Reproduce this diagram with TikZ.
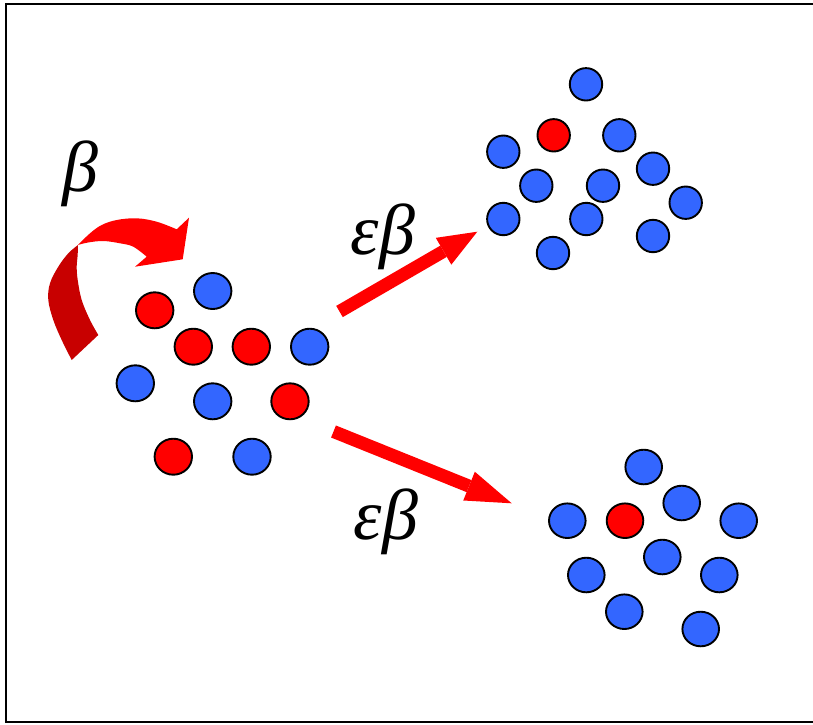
\documentclass[tikz,border=0pt]{standalone}
\usepackage{fontspec}
\setmainfont{Liberation Serif}
\usetikzlibrary{arrows.meta,shapes.geometric}
\definecolor{ballblue}{HTML}{3366FF}
\definecolor{ballred}{HTML}{FF0000}
\definecolor{ribbondark}{HTML}{C80000}
\definecolor{ribbonred}{HTML}{FF0000}

\begin{document}
\begin{tikzpicture}[x=1pt,y=-1pt,
  ball/.style={ellipse,draw=black,line width=1.9pt,inner sep=0pt},
  bigball/.style={ball,minimum width=37.4pt,minimum height=36pt},
  midball/.style={ball,minimum width=36.6pt,minimum height=34.6pt},
  smallball/.style={ball,minimum width=32.4pt,minimum height=32.4pt},
  infected/.style={fill=ballred},
  healthy/.style={fill=ballblue},
  rate/.style={inner sep=0pt,font=\fontsize{72}{72}\selectfont\itshape},
  fatarrow/.style={ribbonred,line width=13pt},
]
\useasboundingbox (0,0) rectangle (813,724);

% open frame (left, top and bottom edges)
\draw[line width=2pt] (813,3.8) -- (5.5,3.8) -- (5.5,722) -- (813,722);

% ---- source group ----
\node[bigball,infected] (l1)  at (154.7,310.3) {};
\node[bigball,healthy]  (l2)  at (212.7,291.0) {};
\node[bigball,infected] (l3)  at (193.3,346.7) {};
\node[bigball,infected] (l4)  at (251.3,346.7) {};
\node[bigball,healthy]  (l5)  at (309.7,346.7) {};
\node[bigball,healthy]  (l6)  at (135.3,383.3) {};
\node[bigball,healthy]  (l7)  at (212.7,401.3) {};
\node[bigball,infected] (l8)  at (290.0,401.3) {};
\node[bigball,infected] (l9)  at (173.3,456.7) {};
\node[bigball,healthy]  (l10) at (252.0,456.7) {};

% ---- upper group ----
\node[smallball,healthy]  (t1)  at (586.0,84.3) {};
\node[smallball,infected] (t2)  at (553.7,135.3) {};
\node[smallball,healthy]  (t3)  at (619.3,135.3) {};
\node[smallball,healthy]  (t4)  at (503.3,151.7) {};
\node[smallball,healthy]  (t5)  at (653.0,168.7) {};
\node[smallball,healthy]  (t6)  at (536.3,185.7) {};
\node[smallball,healthy]  (t7)  at (603.0,185.7) {};
\node[smallball,healthy]  (t8)  at (685.7,202.7) {};
\node[smallball,healthy]  (t9)  at (503.3,219.0) {};
\node[smallball,healthy]  (t10) at (586.3,219.0) {};
\node[smallball,healthy]  (t11) at (553.0,253.0) {};
\node[smallball,healthy]  (t12) at (653.0,236.0) {};

% ---- lower group ----
\node[midball,healthy]  (b1)  at (643.7,467.0) {};
\node[midball,healthy]  (b2)  at (681.7,503.0) {};
\node[midball,healthy]  (b3)  at (567.3,520.7) {};
\node[midball,infected] (b4)  at (625.0,520.7) {};
\node[midball,healthy]  (b5)  at (738.7,520.7) {};
\node[midball,healthy]  (b6)  at (662.3,557.0) {};
\node[midball,healthy]  (b7)  at (586.3,575.0) {};
\node[midball,healthy]  (b8)  at (719.3,575.0) {};
\node[midball,healthy]  (b9)  at (624.3,611.7) {};
\node[midball,healthy]  (b10) at (700.7,629.0) {};

% ---- splitting arrows ----
\coordinate (upTail) at (339.5,311.5);
\coordinate (upTip)  at (477.3,231.7);
\coordinate (dnTail) at (333.5,431.5);
\coordinate (dnTip)  at (511.7,503.3);
\draw[fatarrow,-{Triangle[length=39pt,width=31pt,line width=0pt]}] (upTail) -- (upTip);
\draw[fatarrow,-{Triangle[length=46pt,width=31pt,line width=0pt]}] (dnTail) -- (dnTip);

% ---- twisted loop arrow (back face, then front face with head) ----
\fill[ribbondark]
  plot[smooth,tension=0.6] coordinates {(71.7,360) (61.7,340) (53.3,320) (48.3,300) (50,283.3) (58.3,266.7) (68.3,253.3) (78,245)}
  -- plot[smooth,tension=0.6] coordinates {(78,245) (77.6,256) (76.7,266.7) (77.7,280) (81.7,300) (90,320) (98.3,335)}
  -- cycle;
\fill[ribbonred]
  plot[smooth,tension=0.6] coordinates {(78,245) (90,233.3) (101.7,225) (116.7,220) (136.7,218.3) (156.7,221.7) (176.7,229.3)}
  -- (189,217.7) -- (182.7,259.3) -- (135,266.7)
  -- plot[smooth,tension=0.6] coordinates {(146.7,256.7) (133.3,246.7) (120,243.3) (103.3,241) (88,242.5) (78,245)}
  -- cycle;

% ---- rate labels ----
\node[rate] (beta)  at (80,174)  {β};
\node[rate] (rUp)   at (383,237) {εβ};
\node[rate] (rDown) at (386,522) {εβ};
\end{tikzpicture}
\end{document}
